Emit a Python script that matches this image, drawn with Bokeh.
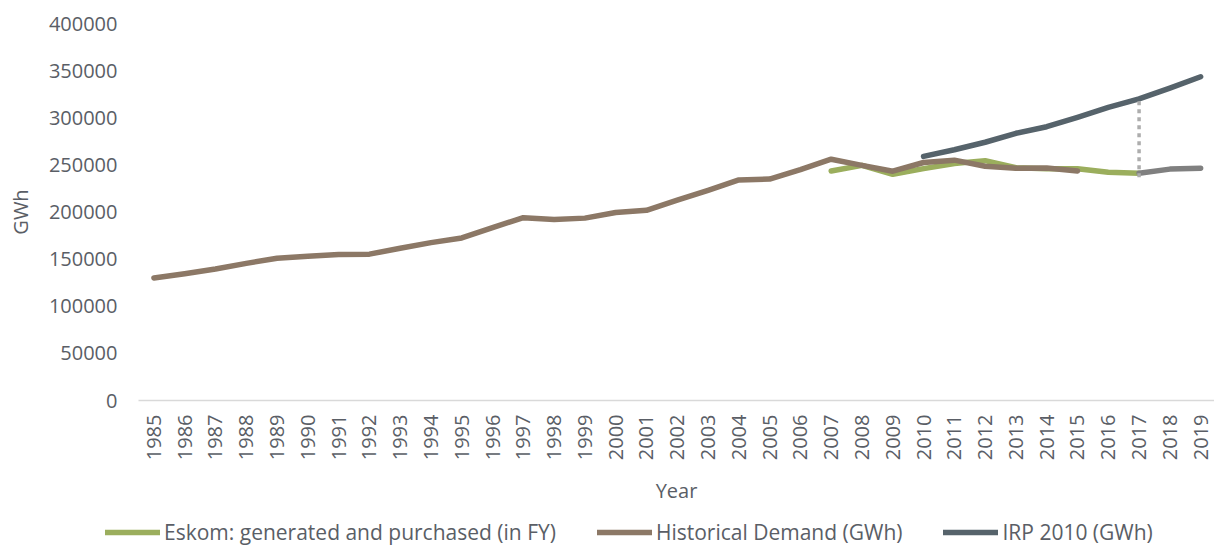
import math
from bokeh.plotting import figure
from bokeh.layouts import column
from bokeh.models import Range1d, FixedTicker, Legend, LegendItem, BasicTickFormatter
from bokeh.embed import file_html
from bokeh.resources import INLINE

# ---- data ----
years = list(range(1985, 2020))
hist_years = list(range(1985, 2016))
hist_vals = [130000, 134500, 139500, 145500, 151000, 153000, 155000, 155300, 161500, 167500,
             172500, 183500, 194000, 192000, 193500, 199500, 201800, 212500, 223000, 234000,
             235000, 245000, 256000, 249500, 243300, 252500, 255000, 248500, 246500, 246800,
             243500]
eskom_years = list(range(2007, 2018))
eskom_vals = [243500, 249500, 240000, 246000, 251500, 254500, 247000, 246000, 245800, 242200, 241200]
proj_years = [2017, 2018, 2019]
proj_vals = [241200, 245500, 246500]
irp_years = list(range(2010, 2020))
irp_vals = [259000, 266000, 274000, 283500, 290500, 300500, 311000, 320000, 331500, 343500]
gap_years = [2017, 2017]
gap_vals = [237000, 320000]
y_ticks = [0, 50000, 100000, 150000, 200000, 250000, 300000, 350000, 400000]
legend_labels = ["Eskom: generated and purchased (in FY)", "Historical Demand (GWh)", "IRP 2010 (GWh)"]

GREEN = "#9BAE5D"
BROWN = "#8C7866"
SLATE = "#56636B"
GRAY = "#808080"
TXT = "#5A5E66"
FONT = "Open Sans"
LW = 5.5

p = figure(width=1214, height=512, output_backend="svg", toolbar_location=None,
           x_range=Range1d(1984.5, 2019.45), y_range=Range1d(0, 400000),
           min_border_left=138, min_border_right=0, min_border_top=23, min_border_bottom=112)
p.frame_align = False
p.outline_line_color = None
p.grid.visible = False

p.line(eskom_years, eskom_vals, line_color=GREEN, line_width=LW, line_cap="round", line_join="round")
p.line(hist_years, hist_vals, line_color=BROWN, line_width=LW, line_cap="round", line_join="round")
p.line(irp_years, irp_vals, line_color=SLATE, line_width=LW, line_cap="round", line_join="round")
p.line(proj_years, proj_vals, line_color=GRAY, line_width=LW, line_cap="round", line_join="round")
p.line(gap_years, gap_vals, line_color="#ADADAD", line_width=3.5, line_dash="4 4")

xa = p.xaxis[0]
xa.ticker = FixedTicker(ticks=years)
xa.major_label_orientation = math.pi / 2
xa.major_tick_line_color = None
xa.minor_tick_line_color = None
xa.axis_line_color = "#D9D9D9"
xa.axis_line_width = 1.5
xa.major_label_text_font = FONT
xa.major_label_text_font_size = "20px"
xa.major_label_text_color = TXT
xa.major_label_standoff = 8
xa.axis_label = "Year"
xa.axis_label_text_font = FONT
xa.axis_label_text_font_size = "20px"
xa.axis_label_text_font_style = "normal"
xa.axis_label_text_color = TXT
xa.axis_label_standoff = 14

ya = p.yaxis[0]
ya.ticker = FixedTicker(ticks=y_ticks)
ya.formatter = BasicTickFormatter(use_scientific=False)
ya.axis_line_color = None
ya.major_tick_line_color = None
ya.minor_tick_line_color = None
ya.major_label_text_font = FONT
ya.major_label_text_font_size = "20px"
ya.major_label_text_color = TXT
ya.major_label_standoff = 15
ya.axis_label = "GWh"
ya.axis_label_text_font = FONT
ya.axis_label_text_font_size = "20px"
ya.axis_label_text_font_style = "normal"
ya.axis_label_text_color = TXT
ya.axis_label_standoff = 12

# legend strip below the chart (its lines carry the same data, out of this strip's view)
q = figure(width=1214, height=35, output_backend="svg", toolbar_location=None,
           x_range=Range1d(0, 1), y_range=Range1d(0, 1),
           x_axis_location=None, y_axis_location=None,
           min_border_left=0, min_border_right=0, min_border_top=0, min_border_bottom=0)
q.frame_align = False
q.outline_line_color = None
q.grid.visible = False
lr = [q.line(xs, ys, line_color=c, line_width=LW, line_cap="round")
      for xs, ys, c in ((eskom_years, eskom_vals, GREEN), (hist_years, hist_vals, BROWN),
                        (irp_years, irp_vals, SLATE))]
legend = Legend(items=[LegendItem(label=t, renderers=[r]) for t, r in zip(legend_labels, lr)],
                orientation="horizontal", location=(105, 1))
legend.label_text_font = FONT
legend.label_text_font_size = "21px"
legend.label_text_color = TXT
legend.glyph_width = 55
legend.glyph_height = 20
legend.label_standoff = 4
legend.spacing = 41
legend.padding = 0
legend.margin = 0
legend.border_line_color = None
legend.background_fill_alpha = 0
q.add_layout(legend)

layout = column(p, q, spacing=0)
open("out.html", "w").write(file_html(layout, INLINE))
